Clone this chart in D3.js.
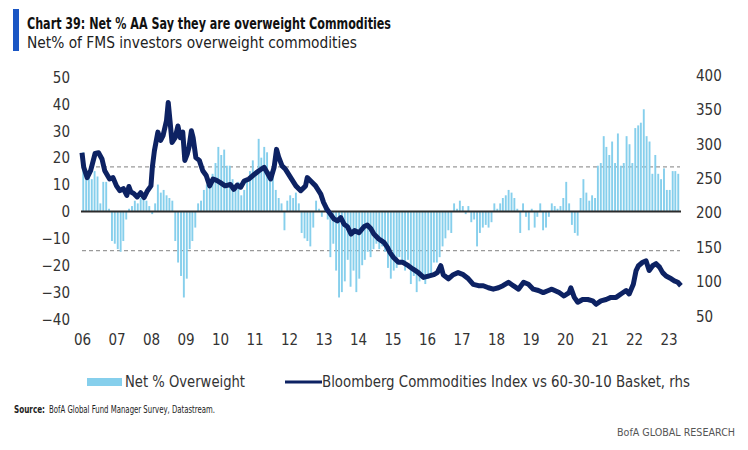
<!DOCTYPE html>
<html><head><meta charset="utf-8">
<script src="https://cdn.jsdelivr.net/npm/d3@7"></script>
<style>
body{margin:0;background:#fff;}
svg{display:block;}
text{font-family:"Liberation Sans Narrow","DejaVu Sans Condensed","Roboto Condensed",sans-serif;}
</style></head>
<body><svg id="c" width="748" height="450"></svg>
<script>
// ---- data ----
const startYear = 2006;
// monthly Net % overweight commodities, Jan 2006 onward
const netValues = [
 22,14,13,12,15,13,3,11,11,1,-11,-12,
 -14,-15,-11,-3,1,2,4,3,5,6,4,2,
 -1,3,10,7,8,6,5,4,-11,-19,-24,-32,
 -25,-14,-11,-6,3,4,8,10,12,14,18,24,
 21,23,17,17,12,10,11,6,8,12,15,19,
 14,27,20,24,22,15,13,8,5,3,-7,4,
 6,5,7,3,-8,-10,-11,-13,-6,4,1,-2,
 2,-3,-17,-12,-22,-32,-30,-26,-18,-28,-22,-30,
 -25,-20,-18,-15,-17,-14,-12,-14,-13,-15,-21,-25,
 -22,-21,-17,-19,-22,-18,-27,-24,-30,-26,-24,-27,
 -25,-23,-19,-19,-17,-13,-10,-7,-8,3,1,4,
 2,-1,2,-4,-3,-13,-8,-6,-5,-6,-4,3,
 1,3,5,6,8,7,5,1,-8,3,-2,-7,
 1,-6,-2,3,-7,-6,-2,3,2,1,2,5,
 11,3,-5,-8,-9,5,12,7,4,6,5,17,
 18,28,24,21,26,18,29,17,18,28,25,18,
 31,32,33,38,28,26,14,21,14,12,16,8,
 8,15,15,14
];
// Bloomberg Commodities Index vs 60-30-10 basket (rhs), decimal-year dates
const lineYears = [2006.00,2006.05,2006.15,2006.25,2006.38,2006.48,2006.58,2006.66,2006.80,2006.90,
 2007.00,2007.10,2007.20,2007.30,2007.36,2007.42,2007.50,2007.60,2007.70,2007.80,2007.90,
 2008.00,2008.04,2008.10,2008.20,2008.28,2008.35,2008.45,2008.50,2008.55,2008.61,2008.70,2008.78,2008.85,2008.92,2008.98,
 2009.05,2009.10,2009.17,2009.22,2009.30,2009.40,2009.50,2009.60,2009.70,2009.80,2009.90,
 2010.00,2010.15,2010.30,2010.40,2010.50,2010.60,2010.70,2010.84,
 2011.00,2011.13,2011.28,2011.37,2011.47,2011.57,2011.64,2011.70,2011.80,2011.90,
 2012.05,2012.20,2012.34,2012.48,2012.53,2012.63,2012.77,2012.92,
 2013.00,2013.10,2013.20,2013.30,2013.40,2013.50,2013.60,2013.69,2013.80,2013.90,
 2014.03,2014.18,2014.27,2014.37,2014.46,2014.60,2014.75,2014.85,2014.93,
 2015.03,2015.17,2015.30,2015.46,2015.60,2015.75,2015.90,
 2016.04,2016.20,2016.30,2016.40,2016.47,2016.62,2016.76,2016.90,
 2017.05,2017.20,2017.34,2017.49,2017.63,2017.78,2017.92,
 2018.07,2018.20,2018.36,2018.50,2018.65,2018.80,2018.94,
 2019.08,2019.23,2019.37,2019.52,2019.62,2019.83,2019.97,
 2020.12,2020.17,2020.27,2020.37,2020.51,2020.66,2020.80,2020.90,
 2021.04,2021.19,2021.33,2021.48,2021.62,2021.77,2021.86,2021.98,
 2022.06,2022.13,2022.25,2022.35,2022.44,2022.54,2022.64,2022.74,2022.83,2022.93,
 2023.08,2023.17,2023.27,2023.36];
const lineValues = [287,266,251,261,286,287,278,261,249,251,
 239,232,235,225,238,230,228,223,229,222,232,
 239,266,290,317,305,312,334,360,334,302,309,326,309,317,276,
 285,295,319,309,280,276,261,254,239,249,247,
 244,239,241,234,240,237,246,249,
 256,261,266,258,249,266,292,281,268,263,
 251,239,232,239,251,246,239,227,
 215,205,198,191,188,193,183,180,169,174,
 171,180,182,177,169,162,157,150,142,
 135,128,128,123,118,113,106,
 108,110,113,123,110,104,110,113,
 110,104,96,94,94,91,89,
 91,94,99,94,89,99,96,
 89,87,84,87,89,84,79,
 84,91,77,70,74,74,72,67,
 72,74,77,77,82,87,82,96,
 116,123,128,130,116,123,126,121,113,108,
 104,101,99,94];
const leftTicks = [50,40,30,20,10,0,-10,-20,-30,-40];
const rightTicks = [400,350,300,250,200,150,100,50];
const bandLines = [16.6,-14.6]; // dashed reference levels (lhs)
const xLabelYears = d3.range(2006, 2024);

// ---- layout ----
const svg = d3.select("#c");
const x = d3.scaleTime().domain([new Date(2006,0,1), new Date(2023,0,1)]).range([82, 668.5]);
const yL = d3.scaleLinear().domain([-40,50]).range([319,77]);
const yR = d3.scaleLinear().domain([50,400]).range([316,75]);
const decToDate = d => { const y = Math.floor(d); const s = new Date(y,0,1), e = new Date(y+1,0,1); return new Date(+s + (d-y)*(e-s)); };

// title
svg.append("rect").attr("x",13).attr("y",9).attr("width",6).attr("height",42).attr("fill","#1a56c4");
svg.append("text").attr("x",27).attr("y",29).attr("font-size",16).attr("font-weight","bold").attr("fill","#111")
  .attr("textLength",364).attr("lengthAdjust","spacingAndGlyphs")
  .text("Chart 39: Net % AA Say they are overweight Commodities");
svg.append("text").attr("x",27).attr("y",48).attr("font-size",15).attr("fill","#222")
  .attr("textLength",330).attr("lengthAdjust","spacingAndGlyphs")
  .text("Net% of FMS investors overweight commodities");

// dashed reference lines
svg.append("g").selectAll("line").data(bandLines).join("line")
  .attr("x1",82).attr("x2",680).attr("y1",d=>yL(d)).attr("y2",d=>yL(d))
  .attr("stroke","#9a9a9a").attr("stroke-width",1.2).attr("stroke-dasharray","4,3");

// bars
svg.append("g").selectAll("rect").data(netValues).join("rect")
  .attr("x",(d,i)=>x(new Date(startYear,i,1))+0.3)
  .attr("width",1.9)
  .attr("y",d=>Math.min(yL(d),yL(0)))
  .attr("height",d=>Math.abs(yL(d)-yL(0)))
  .attr("fill","#86cfec");

// zero line
svg.append("line").attr("x1",81).attr("x2",681).attr("y1",yL(0)).attr("y2",yL(0))
  .attr("stroke","#2b2b2b").attr("stroke-width",2);

// line
const lineData = lineYears.map((d,i)=>({date:decToDate(d), v:lineValues[i]}));
svg.append("path").datum(lineData)
  .attr("d", d3.line().x(d=>x(d.date)).y(d=>yR(d.v)))
  .attr("fill","none").attr("stroke","#0d2263").attr("stroke-width",5).attr("stroke-linejoin","round");

// axes
const axL = svg.append("g").attr("transform","translate(72,0)")
  .call(d3.axisLeft(yL).tickValues(leftTicks).tickSize(0).tickPadding(2).tickFormat(d3.format("d")));
const axR = svg.append("g").attr("transform","translate(694,0)")
  .call(d3.axisRight(yR).tickValues(rightTicks).tickSize(0).tickPadding(2));
const axX = svg.append("g").attr("transform","translate(0,332)")
  .call(d3.axisBottom(x).tickValues(xLabelYears.map(yv=>new Date(yv,0,1))).tickSize(0).tickPadding(2).tickFormat(d3.timeFormat("%y")));
[axL,axR,axX].forEach(a=>{a.select(".domain").remove(); a.selectAll("text").attr("font-size",15).attr("fill","#333").style("font-family",'"Liberation Sans Narrow","DejaVu Sans Condensed",sans-serif');});
axL.selectAll("text").attr("dy","0.35em");
axR.selectAll("text").attr("dy","0.35em");

// legend
svg.append("rect").attr("x",87).attr("y",378).attr("width",35).attr("height",8).attr("fill","#86cfec");
svg.append("text").attr("x",125).attr("y",387).attr("font-size",15).attr("fill","#333")
  .attr("textLength",120).attr("lengthAdjust","spacingAndGlyphs").text("Net % Overweight");
svg.append("line").attr("x1",285).attr("x2",322).attr("y1",382).attr("y2",382).attr("stroke","#0d2263").attr("stroke-width",3);
svg.append("text").attr("x",322).attr("y",387).attr("font-size",15).attr("fill","#333")
  .attr("textLength",368).attr("lengthAdjust","spacingAndGlyphs").text("Bloomberg Commodities Index vs 60-30-10 Basket, rhs");

// source & footer
svg.append("text").attr("x",14).attr("y",413).attr("font-size",10).attr("font-weight","bold").attr("fill","#222")
  .attr("textLength",31).attr("lengthAdjust","spacingAndGlyphs").text("Source:");
svg.append("text").attr("x",49).attr("y",413).attr("font-size",10).attr("fill","#222")
  .attr("textLength",166).attr("lengthAdjust","spacingAndGlyphs").text("BofA Global Fund Manager Survey, Datastream.");
svg.append("text").attr("x",735).attr("y",436).attr("text-anchor","end").attr("font-size",10).attr("fill","#555")
  .attr("textLength",118).attr("lengthAdjust","spacingAndGlyphs")
  .text("BofA GLOBAL RESEARCH");
</script></body></html>
